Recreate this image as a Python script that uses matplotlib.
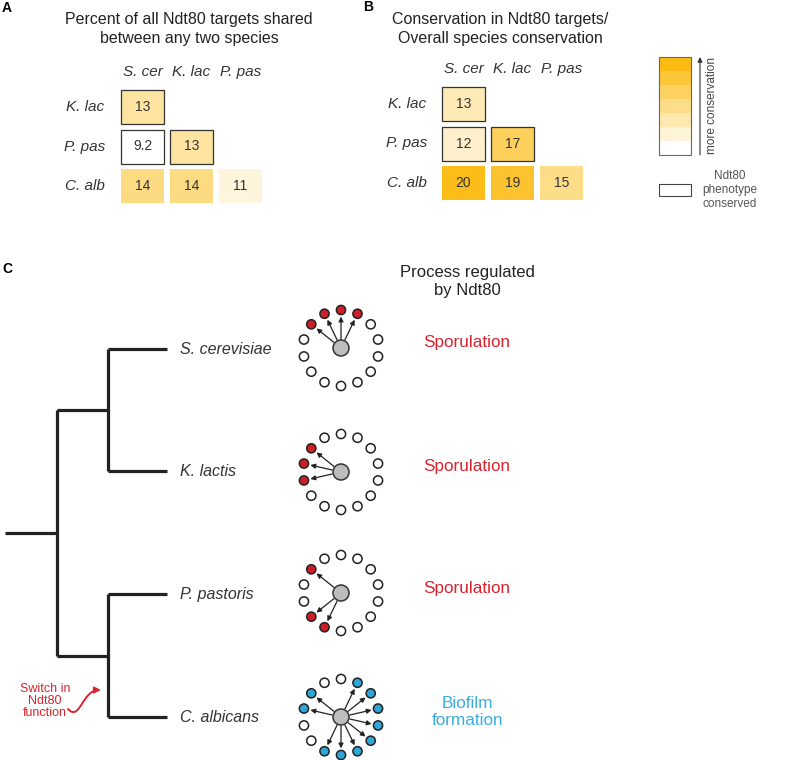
import numpy as np
import matplotlib.pyplot as plt
from matplotlib.patches import Rectangle, Circle, FancyArrowPatch
from matplotlib.path import Path
from matplotlib.colors import LinearSegmentedColormap, Normalize

plt.rcParams['font.family'] = ['Liberation Sans', 'DejaVu Sans']

# ---- data ----
col_species = ["S. cer", "K. lac", "P. pas"]
row_species = ["K. lac", "P. pas", "C. alb"]
# lower triangle, one list per row
shared_pct = [[13], [9.2, 13], [14, 14, 11]]
cons_ratio = [[13], [12, 17], [20, 19, 15]]
phenotype_conserved = [[True], [True, True], [False, False, False]]

species_full = ["S. cerevisiae", "K. lactis", "P. pastoris", "C. albicans"]
processes = ["Sporulation", "Sporulation", "Sporulation", "Biofilm\nformation"]
process_kind = ["spor", "spor", "spor", "biofilm"]
n_targets = 14
bound_targets = [[0, 1, 12, 13], [10, 11, 12], [8, 9, 12],
                 [1, 2, 3, 4, 5, 6, 7, 8, 11, 12]]
tree = ((0, 1), (2, 3))
legend_levels = 7

# ---- styles ----
gold = "#fcbb12"
cmap = LinearSegmentedColormap.from_list("cons", ["#ffffff", gold])
txt = "#333333"
red = "#d9232d"
blue = "#38ade0"
red_node = "#cc1f27"
blue_node = "#2ea6d8"

fig = plt.figure(figsize=(7.85, 7.6), dpi=100)
ax = fig.add_axes([0, 0, 1, 1])
ax.set_xlim(0, 785)
ax.set_ylim(760, 0)
ax.set_aspect('equal')
ax.axis('off')


def heat_panel(x0, y0, values, norm, title_x, title, colx, rowx):
    cw, ch, gx, gy = 43, 34, 6, 5.5
    ax.text(title_x, 29, title, ha='center', va='center', fontsize=11.5,
            color="#222222", linespacing=1.3)
    for j, name in enumerate(col_species):
        ax.text(x0 + j * (cw + gx) + cw / 2, y0 - 18, name, ha='center',
                va='center', fontsize=11, style='italic', color=txt)
    for i, name in enumerate(row_species):
        yc = y0 + i * (ch + gy) + ch / 2
        ax.text(rowx, yc, name, ha='center', va='center', fontsize=11,
                style='italic', color=txt)
        for j, v in enumerate(values[i]):
            xl = x0 + j * (cw + gx)
            yt = y0 + i * (ch + gy)
            edge = phenotype_conserved[i][j]
            ax.add_patch(Rectangle((xl, yt), cw, ch,
                                   facecolor=cmap(norm(v)),
                                   edgecolor="#333333" if edge else "none",
                                   lw=0.9))
            ax.text(xl + cw / 2, yt + ch / 2, f"{v:g}", ha='center',
                    va='center', fontsize=10, color=txt)


ax.text(7, 8, "A", fontsize=10, fontweight='bold', ha='center', va='center')
ax.text(368, 7, "B", fontsize=10, fontweight='bold', ha='center', va='center')
ax.text(7, 269, "C", fontsize=10, fontweight='bold', ha='center', va='center')

heat_panel(121, 90, shared_pct, Normalize(9.8, 17.8), 189,
           "Percent of all Ndt80 targets shared\nbetween any two species",
           None, 85)
heat_panel(442, 87, cons_ratio, Normalize(9.7, 20.3), 500,
           "Conservation in Ndt80 targets/\nOverall species conservation",
           None, 407)

# legend
lx, ly, lw_, lh = 659, 57, 32, 98
band = lh / legend_levels
for k in range(legend_levels):
    f = k / (legend_levels - 1)
    ax.add_patch(Rectangle((lx, ly + lh - (k + 1) * band), lw_, band,
                           facecolor=cmap(f), edgecolor='none'))
ax.add_patch(Rectangle((lx, ly), lw_, lh, facecolor='none',
                       edgecolor="#666666", lw=0.8))
ax.annotate("", xy=(700, ly), xytext=(700, ly + lh),
            arrowprops=dict(arrowstyle='-|>', color="#333333", lw=0.8,
                            mutation_scale=7, shrinkA=0, shrinkB=0))
ax.text(712, ly + lh / 2, "more conservation", rotation=90, ha='center',
        va='center', fontsize=8.5, color="#444444")
ax.add_patch(Rectangle((lx, 184), lw_, 12, facecolor='white',
                       edgecolor="#444444", lw=0.8))
ax.text(730, 190, "Ndt80\nphenotype\nconserved", ha='center', va='center',
        fontsize=8.5, color="#555555", linespacing=1.25)

# ---- panel C: tree ----
leaf_y = [349, 471, 594, 717]
depth_x = [57, 108]
leaf_x = 167
tree_kw = dict(color="#222222", lw=2.3, solid_capstyle='butt')


def draw_clade(node, depth):
    if isinstance(node, int):
        return leaf_y[node]
    ys = []
    for child in node:
        yc = draw_clade(child, depth + 1)
        xend = leaf_x if isinstance(child, int) else depth_x[depth + 1]
        ax.plot([depth_x[depth], xend], [yc, yc], **tree_kw)
        ys.append(yc)
    ax.plot([depth_x[depth], depth_x[depth]], [min(ys), max(ys)], **tree_kw)
    return np.mean(ys)


root_y = draw_clade(tree, 0)
ax.plot([5, depth_x[0]], [root_y, root_y], **tree_kw)

for i, name in enumerate(species_full):
    ax.text(180, leaf_y[i], name, ha='left', va='center', fontsize=11.5,
            style='italic', color=txt)

# networks
cx = 341
ring_r = 38
node_r = 4.6
hub_r = 8
net_y = [348, 472, 593, 717]
for i in range(len(species_full)):
    cy = net_y[i]
    fill = red_node if process_kind[i] == "spor" else blue_node
    for k in range(n_targets):
        ang = np.deg2rad(90 - k * 360 / n_targets)
        ux, uy = np.cos(ang), -np.sin(ang)
        nx, ny = cx + ring_r * ux, cy + ring_r * uy
        bound = k in bound_targets[i]
        ax.add_patch(Circle((nx, ny), node_r,
                            facecolor=fill if bound else 'white',
                            edgecolor="#222222", lw=1.1, zorder=3))
        if bound:
            ax.annotate("", xy=(nx - (node_r + 2) * ux, ny - (node_r + 2) * uy),
                        xytext=(cx + (hub_r + 1) * ux, cy + (hub_r + 1) * uy),
                        arrowprops=dict(arrowstyle='-|>', color="#222222",
                                        lw=0.9, mutation_scale=7,
                                        shrinkA=0, shrinkB=0), zorder=2)
    ax.add_patch(Circle((cx, cy), hub_r, facecolor="#bdbdbd",
                        edgecolor="#333333", lw=1.1, zorder=4))

ax.text(467, 282, "Process regulated\nby Ndt80", ha='center', va='center',
        fontsize=12, color="#222222", linespacing=1.25)
for i, p in enumerate(processes):
    col = red if process_kind[i] == "spor" else blue
    ax.text(467, net_y[i] - 5, p, ha='center', va='center', fontsize=12.3,
            color=col, linespacing=1.2)

# switch annotation
ax.text(45, 701, "Switch in\nNdt80\nfunction", ha='center', va='center',
        fontsize=9, color=red, linespacing=0.95)
sw_path = Path([(68, 709), (80, 722), (82, 690), (101, 690)],
               [Path.MOVETO, Path.CURVE4, Path.CURVE4, Path.CURVE4])
ax.add_patch(FancyArrowPatch(path=sw_path, arrowstyle='-|>', color=red,
                             lw=1.4, mutation_scale=9))

fig.savefig("out.png", dpi=100)
